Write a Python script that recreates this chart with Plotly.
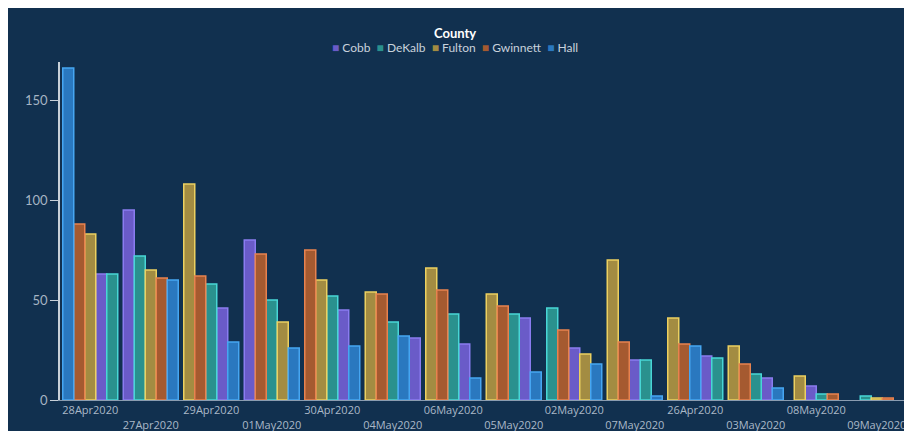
import plotly.graph_objects as go

dates = ["28Apr2020", "27Apr2020", "29Apr2020", "01May2020", "30Apr2020", "04May2020", "06May2020",
         "05May2020", "02May2020", "07May2020", "26Apr2020", "03May2020", "08May2020", "09May2020"]
counties = ["Cobb", "DeKalb", "Fulton", "Gwinnett", "Hall"]
cobb = [63, 95, 46, 80, 45, 31, 28, 41, 26, 20, 22, 11, 7, 0]
dekalb = [63, 72, 58, 50, 52, 39, 43, 43, 46, 20, 21, 13, 3, 2]
fulton = [83, 65, 108, 39, 60, 54, 66, 53, 23, 70, 41, 27, 12, 1]
gwinnett = [88, 61, 62, 73, 75, 53, 55, 47, 35, 29, 28, 18, 3, 1]
hall = [166, 60, 29, 26, 27, 32, 11, 14, 18, 2, 27, 6, 0, 0]
values = {"Cobb": cobb, "DeKalb": dekalb, "Fulton": fulton, "Gwinnett": gwinnett, "Hall": hall}

fills = {"Cobb": "#6a5bc8", "DeKalb": "#2a918e", "Fulton": "#a38c42", "Gwinnett": "#a55a30", "Hall": "#2a78bf"}
lines = {"Cobb": "#8a7cf0", "DeKalb": "#48d6d6", "Fulton": "#ecd060", "Gwinnett": "#e8824f", "Hall": "#46a6f2"}

BG = "#11304f"
BW = 11 / 60.5  # bar width in category units

# positions: within each date, bars sorted by value (descending), centred on the category
pos = {c: [] for c in counties}
for i, d in enumerate(dates):
    present = [c for c in counties if values[c][i] > 0]
    present.sort(key=lambda c: -values[c][i])
    n = len(present)
    for r, c in enumerate(present):
        pos[c].append((i + (r - (n - 1) / 2) * BW, values[c][i]))

fig = go.Figure()
for c in counties:
    xs = [p[0] for p in pos[c]]
    ys = [p[1] for p in pos[c]]
    fig.add_trace(go.Bar(
        x=xs, y=ys, name=c, width=BW, showlegend=False,
        marker=dict(color=fills[c], line=dict(color=lines[c], width=1.5)),
    ))

ticktext = [d if i % 2 == 0 else "<br>" + d for i, d in enumerate(dates)]

legend_text = "&nbsp;&nbsp;".join(
    f"<span style='color:{fills[c]}'>■</span> {c}" for c in counties
)

W_PLOT, H_PLOT = 847, 338

fig.update_layout(
    width=912, height=431,
    margin=dict(l=52, r=13, t=54, b=39, autoexpand=False),
    paper_bgcolor=BG,
    plot_bgcolor=BG,
    font=dict(family="Lato, Open Sans, sans-serif", color="#aab8c8"),
    barmode="overlay",
    showlegend=False,
    xaxis=dict(
        range=[-0.5, 13.5], tickmode="array", tickvals=list(range(len(dates))), ticktext=ticktext,
        showgrid=False, zeroline=False, showline=True, linecolor="#8a9cb0", linewidth=1,
        ticks="", tickangle=0, automargin=False,
        tickfont=dict(family="Open Sans, sans-serif", size=11, color="#aab8c8"),
    ),
    yaxis=dict(
        range=[0, 169], tickvals=[0, 50, 100, 150], showgrid=False, zeroline=False,
        showline=True, linecolor="#c8d0d8", linewidth=1.5, automargin=False,
        ticks="outside", ticklen=8, tickcolor="#c8d0d8", tickwidth=1,
        tickfont=dict(size=13, color="#a6b4c4"),
    ),
    annotations=[
        dict(text="<b>County</b>", xref="paper", yref="paper",
             x=(455 - 60) / W_PLOT, y=(400 - 33) / H_PLOT, xanchor="center", yanchor="middle",
             showarrow=False, font=dict(size=13, color="#ffffff")),
        dict(text=legend_text, xref="paper", yref="paper",
             x=(455 - 60) / W_PLOT, y=(400 - 47) / H_PLOT, xanchor="center", yanchor="middle",
             showarrow=False, font=dict(size=12, color="#c8d2dc")),
    ],
)

fig.write_html("out.html")
